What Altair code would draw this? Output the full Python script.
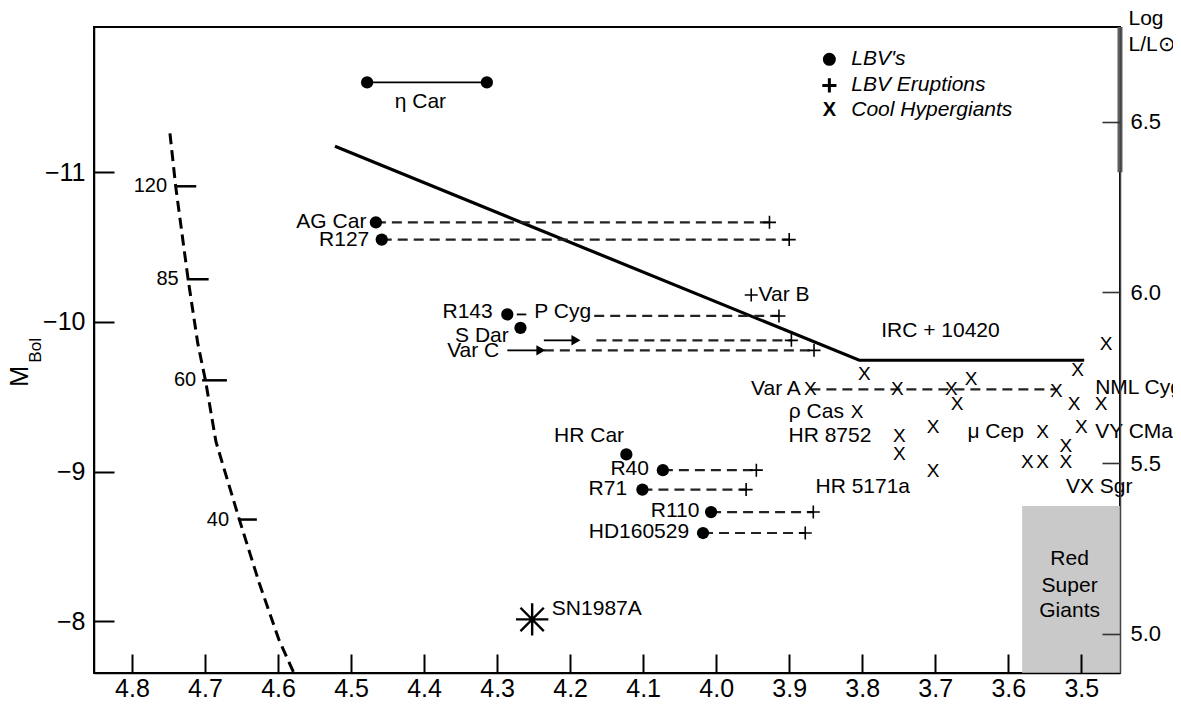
import altair as alt
import pandas as pd

FONT = "Liberation Sans"

# ---------------- axes ----------------
logt_ticks = [4.8, 4.7, 4.6, 4.5, 4.4, 4.3, 4.2, 4.1, 4.0, 3.9, 3.8, 3.7, 3.6, 3.5]
mbol_ticks = [-11, -10, -9, -8]
logl_ticks = [5.0, 5.5, 6.0, 6.5]
T_MIN, T_MAX = 3.447, 4.852
M_TOP, M_BOTTOM = -11.97, -7.655
L_MIN, L_MAX = 4.885, 6.778

W, H = 1026, 646

# ---------------- ZAMS with mass marks ----------------
zams_T = [4.748, 4.740, 4.723, 4.710, 4.699, 4.685, 4.653, 4.626, 4.599, 4.576]
zams_M = [-11.26, -10.90, -10.28, -9.86, -9.60, -9.20, -8.68, -8.26, -7.88, -7.63]
mass_labels = ["120", "85", "60", "40"]
mass_T0 = [4.740, 4.725, 4.704, 4.653]
mass_T1 = [4.712, 4.695, 4.670, 4.629]
mass_M = [-10.906, -10.285, -9.61, -8.68]
mass_label_T = [4.752, 4.736, 4.712, 4.667]

# ---------------- Humphreys-Davidson limit ----------------
hd_T = [4.522, 3.804, 3.496]
hd_M = [-11.173, -9.744, -9.744]

# ---------------- LBVs (quiescent) ----------------
lbv_names = ["eta Car a", "eta Car b", "AG Car", "R127", "R143", "S Dar",
             "HR Car", "R40", "R71", "R110", "HD160529"]
lbv_T = [4.478, 4.314, 4.466, 4.458, 4.286, 4.268, 4.123, 4.073, 4.101, 4.007, 4.018]
lbv_M = [-11.60, -11.60, -10.665, -10.55, -10.05, -9.96, -9.115, -9.01, -8.88, -8.73, -8.59]

# ---------------- LBV eruptions ----------------
erupt_names = ["AG Car", "R127", "P Cyg", "Var B", "S Dar", "Var C", "R40", "R71", "R110", "HD160529"]
erupt_T = [3.927, 3.900, 3.914, 3.952, 3.897, 3.866, 3.945, 3.959, 3.867, 3.878]
erupt_M = [-10.665, -10.55, -10.04, -10.18, -9.877, -9.81, -9.01, -8.88, -8.73, -8.59]

# dashed transitions quiescent -> eruption
trans_T0 = [4.466, 4.458, 4.167, 4.164, 4.236, 4.073, 4.101, 4.007, 4.018, 3.871]
trans_T1 = [3.927, 3.900, 3.914, 3.897, 3.866, 3.945, 3.959, 3.867, 3.878, 3.534]
trans_M = [-10.665, -10.55, -10.04, -9.877, -9.81, -9.01, -8.88, -8.73, -8.59, -9.55]

# solid segments (eta Car range, R143 tick, arrows)
seg_T0 = [4.478, 4.273, 4.236, 4.286]
seg_T1 = [4.314, 4.260, 4.196, 4.244]
seg_M = [-11.60, -10.05, -9.877, -9.81]
arrow_T = [4.192, 4.240]
arrow_M = [-9.877, -9.81]

# ---------------- Cool hypergiants ----------------
hyper_T = [3.797, 3.871, 3.752, 3.678, 3.670, 3.651, 3.534, 3.505, 3.510, 3.473,
           3.807, 3.749, 3.749, 3.703, 3.703, 3.553, 3.500, 3.521, 3.521, 3.574,
           3.553, 3.466]
hyper_M = [-9.650, -9.550, -9.550, -9.550, -9.450, -9.617, -9.536, -9.677, -9.450, -9.450,
           -9.396, -9.236, -9.116, -9.296, -9.002, -9.263, -9.296, -9.169, -9.062, -9.062,
           -9.062, -9.850]

# SN 1987A
sn_T = [4.252]
sn_M = [-8.013]

# Red supergiant box
rsg_T = [3.581, T_MIN]
rsg_M = [-8.77, M_BOTTOM]

# ---------------- labels ----------------
lab_right_text = ["AG Car", "R127", "R143", "S Dar", "Var C", "R40", "R71", "R110",
                  "HD160529", "Var A", "ρ Cas"]
lab_right_T = [4.479, 4.475, 4.306, 4.284, 4.297, 4.092, 4.122, 4.023, 4.037, 3.884, 3.825]
lab_right_M = [-10.665, -10.55, -10.064, -9.904, -9.804, -9.015, -8.882, -8.735, -8.595, -9.55, -9.396]

lab_left_text = ["P Cyg", "Var B", "SN1987A", "IRC + 10420", "HR 8752", "HR 5171a",
                 "μ Cep", "NML Cyg", "VY CMa", "VX Sgr"]
lab_left_T = [4.249, 3.942, 4.225, 3.774, 3.901, 3.864, 3.656, 3.481, 3.481, 3.521]
lab_left_M = [-10.064, -10.18, -8.08, -9.937, -9.236, -8.895, -9.263, -9.556, -9.263, -8.895]

lab_center_text = ["η Car", "HR Car", "Red", "Super", "Giants"]
lab_center_T = [4.405, 4.174, 3.516, 3.516, 3.516]
lab_center_M = [-11.467, -9.236, -8.414, -8.234, -8.067]

# legend
legend_labels = ["LBV's", "LBV Eruptions", "Cool Hypergiants"]
legend_M = [-11.754, -11.580, -11.414]
legend_marker_T = 3.845
legend_text_T = 3.815

# y-axis title pieces
ytitle_text = ["M", "Bol"]
ytitle_T = [4.954, 4.9315]
ytitle_M = [-9.637, -9.810]

# ---------------- scales / helpers ----------------
xs = alt.Scale(domain=[T_MIN, T_MAX], reverse=True, nice=False, zero=False)
ys = alt.Scale(domain=[M_TOP, M_BOTTOM], reverse=True, nice=False, zero=False)
ls = alt.Scale(domain=[L_MIN, L_MAX], nice=False, zero=False)


def ex(f):
    return alt.X(f + ":Q", scale=xs, axis=None)


def ey(f):
    return alt.Y(f + ":Q", scale=ys, axis=None)


PLUS = "M-1,0L1,0M0,-1L0,1"
STAR = ("M-1,0L1,0M0,-1L0,1M-0.72,-0.72L0.72,0.72M-0.72,0.72L0.72,-0.72")

corner = pd.DataFrame({"T": [T_MIN, T_MAX], "M": [M_TOP, M_BOTTOM]})

axes_main = alt.Chart(corner).mark_point(opacity=0).encode(
    x=alt.X("T:Q", scale=xs, axis=alt.Axis(
        orient="bottom", values=logt_ticks, format=".1f", ticks=False, tickSize=0,
        labelPadding=3, labelFontSize=25, labelFont=FONT, labelColor="black",
        domainColor="black", domainWidth=1.5, grid=False, title=None, zindex=1)),
    y=alt.Y("M:Q", scale=ys, axis=alt.Axis(
        orient="left", values=mbol_ticks, format="d", ticks=False, tickSize=0,
        labelPadding=9, labelFontSize=25, labelFont=FONT, labelColor="black",
        domainColor="black", domainWidth=1.5, grid=False, title=None, zindex=1)),
)

axes_ticks = alt.Chart(corner).mark_point(opacity=0).encode(
    x=alt.X("T:Q", scale=xs, axis=alt.Axis(
        orient="top", offset=-H, values=logt_ticks, labels=False, domain=False,
        ticks=True, tickSize=19, tickWidth=2, tickColor="black", grid=False,
        title=None, zindex=1)),
    y=alt.Y("M:Q", scale=ys, axis=alt.Axis(
        orient="right", offset=-W, values=mbol_ticks, labels=False, domain=False,
        ticks=True, tickSize=20, tickWidth=2, tickColor="black", grid=False,
        title=None, zindex=1)),
)

rsg = alt.Chart(pd.DataFrame({"T0": [rsg_T[0]], "T1": [rsg_T[1]],
                              "M0": [rsg_M[0]], "M1": [rsg_M[1]]})).mark_rect(
    color="#c9c9c9").encode(x=ex("T0"), x2="T1:Q", y=ey("M0"), y2="M1:Q")

edge_band = alt.Chart(pd.DataFrame({"T": [T_MIN], "M0": [M_TOP], "M1": [-11.0]})).mark_rule(
    color="#5f5f5f", strokeWidth=5).encode(x=ex("T"), y=ey("M0"), y2="M1:Q")

zams_df = pd.DataFrame({"T": zams_T, "M": zams_M, "i": list(range(len(zams_T)))})
zams = alt.Chart(zams_df).mark_line(color="black", strokeWidth=3, strokeDash=[11, 6]).encode(
    x=ex("T"), y=ey("M"), order="i:Q")

mass_df = pd.DataFrame({"lab": mass_labels, "T0": mass_T0, "T1": mass_T1, "M": mass_M,
                        "TL": mass_label_T})
mass_ticks = alt.Chart(mass_df).mark_rule(color="black", strokeWidth=2.5).encode(
    x=ex("T0"), x2="T1:Q", y=ey("M"))
mass_text = alt.Chart(mass_df).mark_text(font=FONT, fontSize=20, align="right",
                                         baseline="middle", color="black").encode(
    x=ex("TL"), y=ey("M"), text="lab:N")

hd_df = pd.DataFrame({"T": hd_T, "M": hd_M, "i": list(range(len(hd_T)))})
hd = alt.Chart(hd_df).mark_line(color="black", strokeWidth=3.2).encode(
    x=ex("T"), y=ey("M"), order="i:Q")

trans_df = pd.DataFrame({"T0": trans_T0, "T1": trans_T1, "M": trans_M})
trans = alt.Chart(trans_df).mark_rule(color="#222", strokeWidth=2.2, strokeDash=[10, 6]).encode(
    x=ex("T0"), x2="T1:Q", y=ey("M"))

seg_df = pd.DataFrame({"T0": seg_T0, "T1": seg_T1, "M": seg_M})
segs = alt.Chart(seg_df).mark_rule(color="black", strokeWidth=1.8).encode(
    x=ex("T0"), x2="T1:Q", y=ey("M"))

arrows = alt.Chart(pd.DataFrame({"T": arrow_T, "M": arrow_M})).mark_point(
    shape="triangle-right", filled=True, color="black", size=110, opacity=1).encode(
    x=ex("T"), y=ey("M"))

lbv = alt.Chart(pd.DataFrame({"name": lbv_names, "T": lbv_T, "M": lbv_M})).mark_circle(
    color="black", size=150, opacity=1).encode(x=ex("T"), y=ey("M"))

erupt = alt.Chart(pd.DataFrame({"name": erupt_names, "T": erupt_T, "M": erupt_M})).mark_point(
    shape=PLUS, size=169, color="black", strokeWidth=1.6, filled=False, opacity=1).encode(
    x=ex("T"), y=ey("M"))

hyper = alt.Chart(pd.DataFrame({"T": hyper_T, "M": hyper_M})).mark_text(
    text="X", font=FONT, fontSize=19, color="black", baseline="middle", align="center").encode(
    x=ex("T"), y=ey("M"))

sn = alt.Chart(pd.DataFrame({"T": sn_T, "M": sn_M})).mark_point(
    shape=STAR, size=1050, color="black", strokeWidth=2.4, filled=False, opacity=1).encode(
    x=ex("T"), y=ey("M"))


def labels(texts, Ts, Ms, align):
    df = pd.DataFrame({"t": texts, "T": Ts, "M": Ms})
    return alt.Chart(df).mark_text(font=FONT, fontSize=21, align=align, baseline="middle",
                                   color="black").encode(x=ex("T"), y=ey("M"), text="t:N")


lab_r = labels(lab_right_text, lab_right_T, lab_right_M, "right")
lab_l = labels(lab_left_text, lab_left_T, lab_left_M, "left")
lab_c = labels(lab_center_text, lab_center_T, lab_center_M, "center")

leg_df = pd.DataFrame({"t": legend_labels, "M": legend_M,
                       "TM": [legend_marker_T] * 3, "TT": [legend_text_T] * 3})
leg_text = alt.Chart(leg_df).mark_text(font=FONT, fontSize=21, fontStyle="italic", align="left",
                                       baseline="middle", color="black").encode(
    x=ex("TT"), y=ey("M"), text="t:N")
leg_dot = alt.Chart(leg_df.iloc[[0]]).mark_circle(color="black", size=170, opacity=1).encode(
    x=ex("TM"), y=ey("M"))
leg_plus = alt.Chart(leg_df.iloc[[1]]).mark_point(
    shape=PLUS, size=200, color="black", strokeWidth=3, filled=False, opacity=1).encode(
    x=ex("TM"), y=ey("M"))
leg_x = alt.Chart(leg_df.iloc[[2]]).mark_text(
    text="X", font=FONT, fontSize=20, fontWeight="bold", color="black",
    baseline="middle", align="center").encode(x=ex("TM"), y=ey("M"))

yt_df = pd.DataFrame({"t": ytitle_text, "T": ytitle_T, "M": ytitle_M})
ytitle_m = alt.Chart(yt_df.iloc[[0]]).mark_text(font=FONT, fontSize=25, angle=270,
                                                align="center", baseline="middle",
                                                color="black").encode(
    x=ex("T"), y=ey("M"), text="t:N")
ytitle_b = alt.Chart(yt_df.iloc[[1]]).mark_text(font=FONT, fontSize=17, angle=270,
                                                align="center", baseline="middle",
                                                color="black").encode(
    x=ex("T"), y=ey("M"), text="t:N")

m_layer = alt.layer(
    axes_main, axes_ticks, rsg, edge_band, zams, mass_ticks, mass_text, hd, trans, segs,
    arrows, lbv, erupt, hyper, sn, lab_r, lab_l, lab_c, leg_text, leg_dot, leg_plus,
    leg_x, ytitle_m, ytitle_b,
)

ldf = pd.DataFrame({"L": logl_ticks})
l_axis = alt.Chart(ldf).mark_point(opacity=0).encode(
    y=alt.Y("L:Q", scale=ls, axis=alt.Axis(
        orient="right", values=logl_ticks, format=".1f", ticks=False, tickSize=0,
        labelPadding=10, labelFontSize=22, labelFont=FONT, labelColor="black",
        domainColor="#444444", domainWidth=1.5, grid=False,
        title=["Log", "L/L⊙"], titleAngle=0, titleAlign="left", titleBaseline="top",
        titleX=8, titleY=-20, titleFontSize=21, titleFontWeight="normal", titleFont=FONT,
        titleColor="black", titleLineHeight=26, zindex=1)))
l_ticks = alt.Chart(ldf).mark_point(opacity=0).encode(
    y=alt.Y("L:Q", scale=ls, axis=alt.Axis(
        orient="left", offset=-W, values=logl_ticks, labels=False, domain=False,
        ticks=True, tickSize=18, tickWidth=1.6, tickColor="#333333", grid=False,
        title=None, zindex=1)))
l_layer = alt.layer(l_axis, l_ticks)

chart = alt.layer(m_layer, l_layer).resolve_scale(y="independent").properties(
    width=W, height=H,
    padding={"left": 86, "top": 19, "right": 53, "bottom": 25},
    autosize=alt.AutoSizeParams(type="none"),
).configure_view(stroke="black", strokeWidth=2)

chart.save("out.html", embed_options={"renderer": "svg", "actions": False})
